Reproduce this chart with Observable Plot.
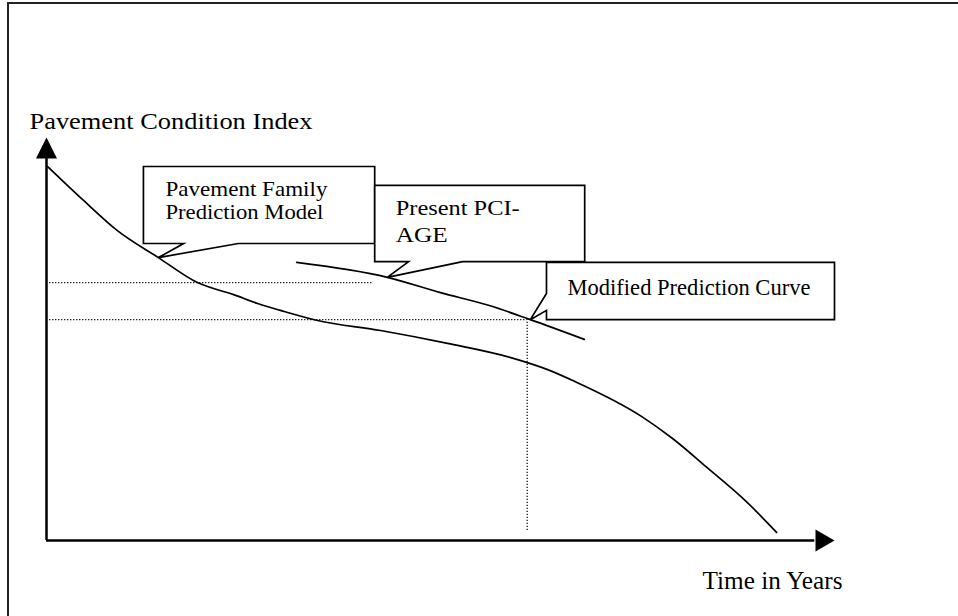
<!DOCTYPE html>
<html><head><meta charset="utf-8">
<script src="https://cdn.jsdelivr.net/npm/d3@7"></script>
<script src="https://cdn.jsdelivr.net/npm/@observablehq/plot@0.6"></script>
<style>
html,body{margin:0;padding:0;background:#fff;overflow:hidden;width:958px;height:616px;}
#chart{position:absolute;left:0;top:0;}
#frame{position:absolute;left:7px;top:2px;width:2000px;height:2000px;border-left:2px solid #222;border-top:2px solid #222;pointer-events:none;}
</style></head><body>
<div id="chart"></div><div id="frame"></div>
<script>
// Pavement family prediction model (age in years, PCI)
const familyYears = [0.03, 0.94, 1.8, 2.84, 3.83, 4.75, 5.36, 5.94, 6.88, 8.48, 10.18, 11.85, 12.72, 13.4, 15.1, 15.89, 16.73, 17.79, 18.53];
const familyPCI   = [92.8, 84.4, 76.9, 70.2, 64.0, 61.0, 58.8, 57.1, 54.6, 52.1, 48.9, 45.2, 42.4, 39.5, 30.8, 25.3, 18.4, 9.4, 2.0];
// Modified prediction curve (through present PCI-age)
const modifiedYears = [6.35, 8.65, 10.0, 11.24, 12.28, 13.65];
const modifiedPCI   = [69.0, 65.3, 61.5, 58.3, 54.8, 49.9];
// Reference levels (dotted)
const presentPCI = 64.0, presentLineEnd = 8.3;
const crossPCI = 54.8, crossAge = 12.2, crossFoot = 2.5;
// Axes
const xMax = 20, yMax = 100;
const yAxisTitle = "Pavement Condition Index";
const xAxisTitle = "Time in Years";
// Callouts
const calloutText = [["Pavement Family", "Prediction Model"], ["Present PCI-", "AGE"], ["Modified Prediction Curve"]];
const boxLeft   = [2.46, 8.33, 12.69];
const boxRight  = [8.33, 13.66, 20.0];
const boxTop    = [92.8, 88.1, 69.0];
const boxBottom = [73.7, 69.2, 54.8];
const pointerSide = ["bottom", "bottom", "left"];
const pointerBaseA = [4.87, 10.56, 57.1];
const pointerBaseB = [3.48, 9.19, 61.3];
const tipYears = [2.84, 8.65, 12.28];
const tipPCI   = [70.2, 65.3, 54.8];

// ---- build tables ----
const family = familyYears.map((x, i) => ({x, y: familyPCI[i]}));
const modified = modifiedYears.map((x, i) => ({x, y: modifiedPCI[i]}));
const polys = [];
calloutText.forEach((_, i) => {
  const L = boxLeft[i], R = boxRight[i], T = boxTop[i], B = boxBottom[i];
  let pts;
  if (pointerSide[i] === "bottom") {
    pts = [[L, T], [R, T], [R, B], [pointerBaseA[i], B], [tipYears[i], tipPCI[i]], [pointerBaseB[i], B], [L, B]];
  } else {
    pts = [[L, T], [R, T], [R, B], [L, B], [L, pointerBaseA[i]], [tipYears[i], tipPCI[i]], [L, pointerBaseB[i]]];
  }
  pts.forEach(([x, y]) => polys.push({id: i, x, y}));
});

const serif = "'Liberation Serif', 'Times New Roman', Times, serif";
const textStyle = [
  {dx: 22, first: 29, gap: 23, size: 21},
  {dx: 21, first: 30, gap: 27, size: 21},
  {dx: 21, first: 33, gap: 0, size: 22.5}
];
const textWidths = {
  "Pavement Condition Index": 283, "Pavement Family": 162, "Prediction Model": 158,
  "Present PCI-": 124, "AGE": 52, "Modified Prediction Curve": 243, "Time in Years": 140
};

const arrowUp = {draw(ctx) { ctx.moveTo(0, 0); ctx.lineTo(10.5, 21); ctx.lineTo(-10.5, 21); ctx.closePath(); }};
const arrowRight = {draw(ctx) { ctx.moveTo(0, 0); ctx.lineTo(-19, -11); ctx.lineTo(-19, 11); ctx.closePath(); }};

const calloutMarks = calloutText.flatMap((lines, i) => lines.map((t, j) =>
  Plot.text([{x: boxLeft[i], y: boxTop[i], t}], {
    x: "x", y: "y", text: "t", textAnchor: "start", lineAnchor: "bottom",
    dx: textStyle[i].dx, dy: textStyle[i].first + j * textStyle[i].gap,
    fontSize: textStyle[i].size, fontFamily: serif, fill: "black"
  })));

const dotted = {stroke: "black", strokeWidth: 1.2, strokeDasharray: "1.2 1.8"};
const chart = Plot.plot({
  width: 958, height: 616,
  marginLeft: 46, marginRight: 124, marginTop: 137, marginBottom: 76,
  x: {domain: [0, xMax], axis: null},
  y: {domain: [0, yMax], axis: null},
  style: {background: "transparent", fontFamily: serif, overflow: "visible"},
  marks: [
    // dotted guides
    Plot.ruleY([{y: presentPCI, x1: 0.08, x2: presentLineEnd}], {y: "y", x1: "x1", x2: "x2", ...dotted}),
    Plot.ruleY([{y: crossPCI, x1: 0.08, x2: crossAge}], {y: "y", x1: "x1", x2: "x2", ...dotted}),
    Plot.ruleX([{x: crossAge, y1: crossFoot, y2: crossPCI}], {x: "x", y1: "y1", y2: "y2", ...dotted}),
    // curves
    Plot.line(family, {x: "x", y: "y", curve: "monotone-x", stroke: "black", strokeWidth: 1.7}),
    Plot.line(modified, {x: "x", y: "y", curve: "monotone-x", stroke: "black", strokeWidth: 1.7}),
    // axes
    Plot.ruleX([{x: 0, y1: 0, y2: yMax - 4}], {x: "x", y1: "y1", y2: "y2", stroke: "black", strokeWidth: 2.5}),
    Plot.ruleY([{y: 0, x1: 0, x2: xMax - 0.5}], {y: "y", x1: "x1", x2: "x2", stroke: "black", strokeWidth: 2.5}),
    Plot.dot([{x: 0, y: yMax}], {x: "x", y: "y", symbol: arrowUp, fill: "black", stroke: "none"}),
    Plot.dot([{x: xMax, y: 0}], {x: "x", y: "y", symbol: arrowRight, fill: "black", stroke: "none"}),
    // callout boxes
    Plot.line(polys, {x: "x", y: "y", z: "id", curve: "linear-closed", fill: "white", stroke: "black", strokeWidth: 1.7, strokeLinejoin: "miter", strokeMiterlimit: 4}),
    ...calloutMarks,
    // axis titles
    Plot.text([{x: 0, y: yMax, t: yAxisTitle}], {x: "x", y: "y", text: "t", textAnchor: "start", lineAnchor: "bottom", dx: -17, dy: -9, fontSize: 24, fontFamily: serif, fill: "black"}),
    Plot.text([{x: xMax, y: 0, t: xAxisTitle}], {x: "x", y: "y", text: "t", textAnchor: "end", lineAnchor: "bottom", dx: 8, dy: 48, fontSize: 25, fontFamily: serif, fill: "black"})
  ]
});
d3.select(chart).selectAll("text").each(function () {
  const w = textWidths[this.textContent];
  if (w) { this.setAttribute("textLength", w); this.setAttribute("lengthAdjust", "spacingAndGlyphs"); }
});
document.getElementById("chart").appendChild(chart);
</script></body></html>
